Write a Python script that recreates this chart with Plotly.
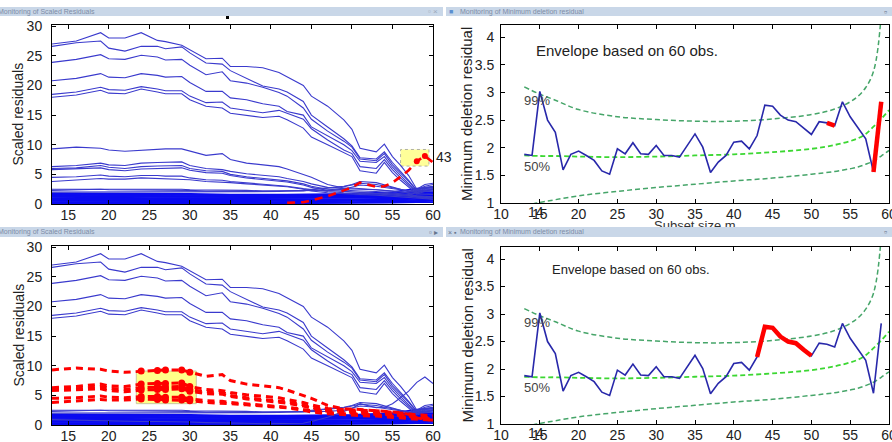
import plotly.graph_objects as go

W, H = 892, 442

# ---------------- data: scaled residual trajectories (left panels) ----------------
m_grid = [13, 16, 19, 20, 22, 24, 26, 27, 29, 30, 32, 34, 35, 37, 39, 41, 42, 44, 45, 47,
          49, 50, 51, 53, 54, 55, 56, 57, 58, 59, 60]

big_1 = [27.0, 27.5, 28.9, 28.0, 28.0, 28.9, 27.6, 27.4, 26.8, 26.0, 24.5, 24.6, 23.2, 23.2, 23.0, 22.2,
         21.5, 20.0, 18.2, 16.5, 14.2, 12.6, 9.4, 8.8, 10.1, 8.0, 6.5, 4.8, 2.5, 3.3, 3.5]
big_2 = [26.6, 27.2, 27.5, 26.3, 25.8, 26.6, 26.6, 26.2, 26.5, 25.5, 23.8, 23.6, 22.5, 21.2, 19.9, 19.4,
         18.9, 17.3, 15.0, 13.0, 11.0, 9.8, 7.8, 7.6, 8.8, 7.0, 5.5, 4.0, 2.3, 2.8, 3.0]
big_3 = [23.9, 24.4, 25.2, 24.5, 24.4, 25.1, 24.8, 24.3, 24.4, 23.4, 21.8, 22.3, 20.8, 20.4, 19.7, 18.8,
         18.2, 16.2, 14.3, 12.3, 10.6, 9.6, 7.6, 7.3, 8.5, 6.6, 5.2, 3.8, 2.2, 2.7, 2.8]
big_4 = [20.8, 21.2, 22.0, 21.4, 21.3, 22.0, 21.7, 21.4, 21.5, 20.5, 19.0, 19.0, 17.9, 17.6, 16.9, 16.5,
         15.6, 15.0, 13.0, 11.5, 10.0, 9.0, 7.2, 7.0, 8.0, 6.2, 4.8, 3.5, 2.0, 2.5, 2.6]
big_5 = [18.5, 18.9, 19.7, 19.3, 19.2, 19.8, 19.4, 19.1, 19.1, 18.2, 17.1, 17.2, 16.2, 15.8, 15.4, 15.8,
         15.3, 14.3, 12.7, 10.8, 9.1, 8.5, 6.3, 6.0, 7.5, 5.8, 4.4, 3.2, 1.9, 2.3, 2.4]
big_6 = [18.0, 18.4, 19.2, 18.7, 18.6, 19.4, 18.9, 18.6, 18.6, 17.6, 16.5, 16.2, 15.3, 15.0, 14.6, 14.8,
         14.2, 12.8, 11.3, 10.0, 8.7, 8.0, 5.6, 5.2, 7.0, 5.3, 4.0, 2.8, 1.7, 2.1, 2.2]

mid_1 = [9.3, 9.6, 9.4, 9.1, 8.9, 9.1, 9.2, 9.3, 9.3, 8.9, 8.2, 8.5, 7.5, 6.9, 6.6, 6.3,
         5.9, 5.0, 4.5, 3.3, 2.7, 2.7, 2.6, 2.5, 2.4, 2.3, 2.1, 1.8, 1.2, 1.0, 0.8]
mid_2 = [6.3, 6.5, 6.9, 6.6, 6.5, 6.9, 7.0, 7.0, 7.1, 6.5, 6.0, 5.8, 5.5, 5.1, 4.8, 4.6,
         4.3, 3.8, 3.4, 2.8, 2.6, 2.5, 2.5, 2.4, 2.3, 2.2, 2.0, 1.9, 1.7, 1.6, 1.6]
mid_3 = [6.0, 6.1, 6.5, 6.2, 6.0, 6.3, 6.4, 6.4, 6.5, 6.0, 5.6, 5.5, 5.0, 4.6, 4.3, 4.1,
         3.9, 3.4, 3.0, 2.5, 2.3, 2.3, 2.2, 2.1, 2.0, 1.9, 1.8, 1.6, 1.4, 1.3, 1.2]
mid_4 = [5.8, 5.9, 6.1, 5.8, 5.6, 5.9, 6.0, 6.0, 6.1, 5.7, 5.3, 5.2, 4.8, 4.4, 4.1, 3.9,
         3.7, 3.2, 2.8, 2.3, 2.1, 2.0, 1.9, 1.8, 1.8, 1.7, 1.6, 1.5, 1.3, 1.2, 1.1]
mid_5 = [4.5, 4.6, 4.9, 4.7, 4.6, 4.8, 4.8, 4.7, 4.7, 4.4, 4.1, 4.0, 3.8, 3.6, 3.3, 3.2,
         3.0, 2.6, 2.4, 2.1, 1.9, 1.8, 1.8, 1.7, 1.6, 1.6, 1.5, 1.4, 1.2, 1.1, 1.0]
mid_6 = [3.8, 4.0, 4.3, 4.2, 4.2, 4.4, 4.3, 4.2, 4.2, 4.1, 3.8, 3.7, 3.6, 3.4, 3.2, 3.0,
         2.9, 2.5, 2.2, 1.9, 1.7, 1.6, 1.6, 1.5, 1.4, 1.4, 1.3, 1.2, 1.0, 0.9, 0.8]

low_1 = [2.5, 2.5, 2.6, 2.5, 2.5, 2.5, 2.5, 2.5, 2.5, 2.4, 2.4, 2.4, 2.3, 2.3, 2.2, 2.2,
         2.2, 2.2, 2.2, 2.3, 2.5, 2.8, 3.2, 3.0, 2.8, 2.6, 2.4, 2.2, 2.4, 3.0, 3.3]
low_2 = [2.3, 2.4, 2.5, 2.4, 2.4, 2.4, 2.4, 2.3, 2.3, 2.3, 2.2, 2.2, 2.2, 2.1, 2.1, 2.1,
         2.1, 2.2, 2.4, 2.6, 2.9, 3.2, 3.5, 3.3, 3.0, 2.8, 2.5, 2.2, 2.0, 2.6, 2.9]
low_3 = [2.0, 2.0, 2.1, 2.0, 2.0, 2.1, 2.1, 2.0, 2.0, 2.0, 2.0, 2.0, 2.0, 2.1, 2.1, 2.1,
         2.2, 2.3, 2.5, 2.8, 3.0, 3.3, 3.8, 3.6, 3.2, 2.9, 2.5, 2.1, 1.9, 2.3, 2.5]
unit_43 = [0.9, 0.8, 0.8, 0.7, 0.7, 0.6, 0.6, 0.6, 0.5, 0.5, 0.4, 0.4, 0.3, 0.3, 0.2, 0.2,
           0.2, 0.3, 0.6, 1.3, 2.3, 2.8, 3.6, 2.9, 3.0, 3.6, 4.6, 5.7, 7.2, 8.1, 7.0]

band_m = [13, 20, 25, 30, 35, 40, 45, 50, 55, 58, 60]
band_01 = [1.8, 1.8, 1.7, 1.7, 1.6, 1.6, 1.5, 1.6, 1.8, 2.2, 2.4]
band_02 = [1.6, 1.6, 1.6, 1.5, 1.5, 1.4, 1.4, 1.5, 1.6, 2.0, 2.0]
band_03 = [1.4, 1.4, 1.4, 1.4, 1.3, 1.3, 1.3, 1.3, 1.5, 1.8, 1.9]
band_04 = [1.2, 1.2, 1.2, 1.2, 1.2, 1.1, 1.1, 1.2, 1.3, 1.6, 1.7]
band_05 = [1.0, 1.1, 1.0, 1.0, 1.0, 1.0, 1.0, 1.1, 1.2, 1.5, 1.5]
band_06 = [0.9, 0.9, 0.9, 0.9, 0.9, 0.9, 0.9, 1.0, 1.1, 1.3, 1.4]
band_07 = [0.7, 0.8, 0.7, 0.7, 0.8, 0.7, 0.8, 0.8, 0.9, 1.2, 1.2]
band_08 = [0.6, 0.6, 0.6, 0.6, 0.6, 0.6, 0.6, 0.7, 0.8, 1.0, 1.1]
band_09 = [0.5, 0.5, 0.5, 0.5, 0.5, 0.5, 0.5, 0.6, 0.7, 0.9, 0.9]
band_10 = [0.35, 0.4, 0.35, 0.4, 0.4, 0.35, 0.4, 0.5, 0.6, 0.7, 0.8]
band_11 = [0.25, 0.25, 0.3, 0.25, 0.3, 0.3, 0.3, 0.35, 0.45, 0.6, 0.6]
band_12 = [0.15, 0.15, 0.15, 0.2, 0.2, 0.2, 0.2, 0.25, 0.3, 0.4, 0.5]
band_13 = [0.05, 0.1, 0.05, 0.1, 0.1, 0.1, 0.1, 0.1, 0.2, 0.3, 0.3]
band_14 = [1.7, 1.5, 1.5, 1.6, 1.4, 1.5, 1.6, 1.7, 2.0, 2.6, 2.8]

# ---------------- data: minimum deletion residual (right panels) ----------------
mdr_m = list(range(13, 60))
mdr_values = [1.88, 1.86, 3.02, 2.50, 2.28, 1.60, 1.88, 1.94, 1.86, 1.77, 1.58, 1.52, 1.98, 1.89, 2.09,
              1.89, 1.88, 2.04, 1.86, 1.86, 1.83, 2.04, 2.25, 2.01, 1.55, 1.74, 1.86, 2.10, 2.12, 1.98,
              2.22, 2.77, 2.75, 2.59, 2.50, 2.47, 2.35, 2.24, 2.47, 2.45, 2.40, 2.83, 2.56, 2.35, 2.16,
              1.56, 2.83]
env_m = [13, 15, 17, 20, 25, 30, 35, 40, 45, 50, 53, 55, 56, 57, 58, 59, 60]
env_99 = [3.10, 2.97, 2.86, 2.69, 2.56, 2.51, 2.48, 2.48, 2.52, 2.60, 2.70, 2.83, 2.93, 3.09, 3.38, 4.40, 8.00]
env_50 = [1.86, 1.85, 1.85, 1.84, 1.83, 1.84, 1.86, 1.88, 1.92, 1.98, 2.05, 2.12, 2.17, 2.25, 2.38, 2.52, 2.68]
env_01 = [0.95, 1.01, 1.06, 1.13, 1.21, 1.28, 1.34, 1.40, 1.45, 1.52, 1.57, 1.62, 1.65, 1.70, 1.76, 1.85, 1.95]

# brushed selections
top_left_selected_steps = (58, 59)        # unit 43 highlighted at these steps
bottom_left_selected_steps = (24, 30)     # units highlighted at these steps
top_right_red_segments = [(52, 53), (58, 59)]
bottom_right_red_segments = [(43, 50)]

x_ticks_left = [15, 20, 25, 30, 35, 40, 45, 50, 55, 60]
y_ticks_left = [0, 5, 10, 15, 20, 25, 30]
x_ticks_right = [10, 15, 20, 25, 30, 35, 40, 45, 50, 55, 60]
y_ticks_right = [1, 1.5, 2, 2.5, 3, 3.5, 4]

big_lines = [big_1, big_2, big_3, big_4, big_5, big_6]
mid_lines = [mid_1, mid_2, mid_3, mid_4, mid_5, mid_6]
low_lines = [low_1, low_2, low_3]
band_lines = [band_01, band_02, band_03, band_04, band_05, band_06, band_07,
              band_08, band_09, band_10, band_11, band_12, band_13, band_14]


def px(x):
    return x / W


def py(y):
    return 1 - y / H


BLUE_TRAJ = "rgb(58,58,205)"
BLUE_BAND = "rgb(10,10,240)"
RED = "rgb(255,0,0)"

fig = go.Figure()


def add_line(xs, ys, xa, ya, color, width, dash="solid", shape="linear"):
    fig.add_trace(go.Scatter(x=xs, y=ys, xaxis=xa, yaxis=ya, mode="lines",
                             line=dict(color=color, width=width, dash=dash, shape=shape),
                             showlegend=False, hoverinfo="skip"))


def add_markers(xs, ys, xa, ya, color, size):
    fig.add_trace(go.Scatter(x=xs, y=ys, xaxis=xa, yaxis=ya, mode="markers",
                             marker=dict(color=color, size=size),
                             showlegend=False, hoverinfo="skip"))


def left_panel(xa, ya, red_mid):
    for b in band_lines:
        add_line(band_m, b, xa, ya, BLUE_BAND, 1.6)
    for l in low_lines:
        add_line(m_grid, l, xa, ya, BLUE_TRAJ, 1.1)
    if red_mid:
        add_line(m_grid, unit_43, xa, ya, BLUE_TRAJ, 1.1)
    for l in big_lines:
        add_line(m_grid, l, xa, ya, BLUE_TRAJ, 1.1)
    if not red_mid:
        for l in mid_lines:
            add_line(m_grid, l, xa, ya, BLUE_TRAJ, 1.1)
        xs = [m for m in m_grid if m >= 42]
        ys = [v for m, v in zip(m_grid, unit_43) if m >= 42]
        add_line(xs, ys, xa, ya, RED, 2.6, dash="8px,6px")
        lo, hi = top_left_selected_steps
        add_markers([m for m in m_grid if lo <= m <= hi],
                    [v for m, v in zip(m_grid, unit_43) if lo <= m <= hi], xa, ya, RED, 6)
    else:
        lo, hi = bottom_left_selected_steps
        for l in mid_lines:
            add_line(m_grid, l, xa, ya, RED, 3.0, dash="7px,5px")
        for l in mid_lines:
            add_markers([m for m in m_grid if lo <= m <= hi],
                        [v for m, v in zip(m_grid, l) if lo <= m <= hi], xa, ya, RED, 7)


def right_panel(xa, ya, blue_end, segments):
    add_line(env_m, env_01, xa, ya, "rgb(70,165,105)", 1.5, dash="5px,3px", shape="spline")
    add_line(env_m, env_99, xa, ya, "rgb(70,165,105)", 1.5, dash="5px,3px", shape="spline")
    add_line(env_m, env_50, xa, ya, "rgb(60,215,50)", 1.8, dash="5px,3px", shape="spline")
    xs = [m for m in mdr_m if m <= blue_end]
    ys = [v for m, v in zip(mdr_m, mdr_values) if m <= blue_end]
    add_line(xs, ys, xa, ya, "rgb(40,40,170)", 1.6)
    for lo, hi in segments:
        add_line([m for m in mdr_m if lo <= m <= hi],
                 [v for m, v in zip(mdr_m, mdr_values) if lo <= m <= hi], xa, ya, RED, 4.5)


left_panel("x", "y", red_mid=False)
right_panel("x2", "y2", blue_end=58, segments=top_right_red_segments)
left_panel("x3", "y3", red_mid=True)
right_panel("x4", "y4", blue_end=59, segments=bottom_right_red_segments)

TICKFONT = dict(family="Liberation Sans, Arial, sans-serif", size=14, color="#222")


def xaxis(dom, anchor, rng, vals):
    return dict(domain=dom, anchor=anchor, range=rng, tickvals=vals, ticks="inside", ticklen=4,
                tickcolor="black", showline=True, linecolor="black", linewidth=1, mirror="ticks",
                showgrid=False, zeroline=False, tickfont=TICKFONT, fixedrange=True, automargin=False,
                ticklabeloverflow="allow", ticklabelstandoff=-2)


def yaxis(dom, anchor, rng, vals, standoff):
    return dict(domain=dom, anchor=anchor, range=rng, tickvals=vals, ticks="inside", ticklen=4,
                tickcolor="black", showline=True, linecolor="black", linewidth=1, mirror="ticks",
                showgrid=False, zeroline=False, tickfont=TICKFONT, ticklabelstandoff=standoff,
                fixedrange=True, automargin=False, ticklabeloverflow="allow")


LX = [px(52), px(433)]
RX = [px(501), px(889)]
TY = [py(204), py(25)]
BY = [py(425), py(246)]
TRY = [py(203), py(25)]
BRY = [py(424), py(247)]

fig.update_layout(
    width=W, height=H, margin=dict(l=0, r=0, t=0, b=0, autoexpand=False),
    paper_bgcolor="white", plot_bgcolor="white", showlegend=False,
    font=dict(family="Liberation Sans, Arial, sans-serif", color="#222"),
    xaxis=xaxis(LX, "y", [13, 60], x_ticks_left),
    yaxis=yaxis(TY, "x", [0, 30.2], y_ticks_left, 6),
    xaxis2=xaxis(RX, "y2", [10, 60], x_ticks_right),
    yaxis2=yaxis(TRY, "x2", [1, 4.22], y_ticks_right, 3),
    xaxis3=xaxis(LX, "y3", [13, 60], x_ticks_left),
    yaxis3=yaxis(BY, "x3", [0, 30.2], y_ticks_left, 6),
    xaxis4=xaxis(RX, "y4", [10, 60], x_ticks_right),
    yaxis4=yaxis(BRY, "x4", [1, 4.22], y_ticks_right, 3),
)

# brushing boxes
fig.add_shape(type="rect", xref="x", yref="y", x0=56.0, x1=59.5, y0=6.4, y1=9.2,
              fillcolor="#ffff99", line=dict(color="#b0b0a0", width=1, dash="dot"), layer="below")
fig.add_shape(type="rect", xref="x3", yref="y3", x0=23.4, x1=30.8, y0=3.6, y1=9.1,
              fillcolor="#ffff88", line=dict(color="#c8c8a0", width=1), layer="below")
# small black dot near top-left title bar
fig.add_shape(type="rect", xref="paper", yref="paper", x0=px(226), x1=px(229), y0=py(19), y1=py(16),
              fillcolor="black", line=dict(width=0))

ann = []


def note(text, x, y, xref="paper", yref="paper", size=14, color="#222", xanchor="center",
         yanchor="middle", **kw):
    ann.append(dict(text=text, x=x, y=y, xref=xref, yref=yref, xanchor=xanchor, yanchor=yanchor,
                    showarrow=False, font=dict(family="Liberation Sans, Arial, sans-serif",
                                               size=size, color=color), **kw))


# axis titles
for yc in [(25 + 204) / 2, (246 + 425) / 2]:
    note("Scaled residuals", px(18), py(yc), size=14, textangle=-90)
for yc in [(25 + 203) / 2, (247 + 424) / 2]:
    note("Minimum deletion residual", px(467), py(yc), size=15, textangle=-90)
# partial x title of top-right panel (cut by the bottom window bar)
note("Subset size m", px(695), py(226), size=13, color="#333")
# overlapping tick label near 15
note("14", 14.55, py(212), xref="x2", size=14)
note("14", 14.55, py(433), xref="x4", size=14)
# labels in panels
note("43", 60, 8.0, xref="x", yref="y", xanchor="left", size=14, xshift=1)
note("Envelope based on 60 obs.", 14.3, 3.76, xref="x2", yref="y2", xanchor="left", size=15)
note("Envelope based on 60 obs.", 16.3, 3.81, xref="x4", yref="y4", xanchor="left", size=13)
for xa, ya in [("x2", "y2"), ("x4", "y4")]:
    note("99%", 12.7, 2.85, xref=xa, yref=ya, xanchor="left", size=13, color="#444")
    note("50%", 12.7, 1.66, xref=xa, yref=ya, xanchor="left", size=13, color="#444")

# window title bars (drawn last so they sit on top)
bars = [(0, 443, 7, 16), (446, 892, 7, 16), (0, 443, 227, 237), (446, 892, 227, 237)]
for x0, x1, y0, y1 in bars:
    ann.append(dict(text=" ", xref="paper", yref="paper", x=px(x0), y=py(y0), xanchor="left",
                    yanchor="top", width=x1 - x0, height=y1 - y0, bgcolor="#c9d7e8",
                    borderpad=0, borderwidth=0, showarrow=False))
BAR_C = "#7d8ca6"
note("Monitoring of Scaled Residuals", px(-4), py(11.5), xanchor="left", size=7, color=BAR_C)
note("Monitoring of Minimum deletion residual", px(458), py(11.5), xanchor="left", size=7, color=BAR_C)
note("Monitoring of Scaled Residuals", px(-4), py(232), xanchor="left", size=7, color=BAR_C)
note("Monitoring of Minimum deletion residual", px(458), py(232), xanchor="left", size=7, color=BAR_C)
note("▫ ×", px(440), py(11.5), xanchor="right", size=8, color="#9aa8bb")
note("▫", px(889), py(11.5), xanchor="right", size=9, color="#66758c")
note("▫ ▸", px(440), py(232), xanchor="right", size=8, color="#66758c")
note("▫", px(889), py(232), xanchor="right", size=9, color="#66758c")
note("■", px(447), py(11.5), xanchor="left", size=7, color="#5b8fd0")
note("× ▪", px(446), py(232), xanchor="left", size=7, color="#66758c")

fig.update_layout(annotations=ann)

fig.write_html("out.html", config={"displayModeBar": False},
               post_script="document.body.style.margin='0px';")
